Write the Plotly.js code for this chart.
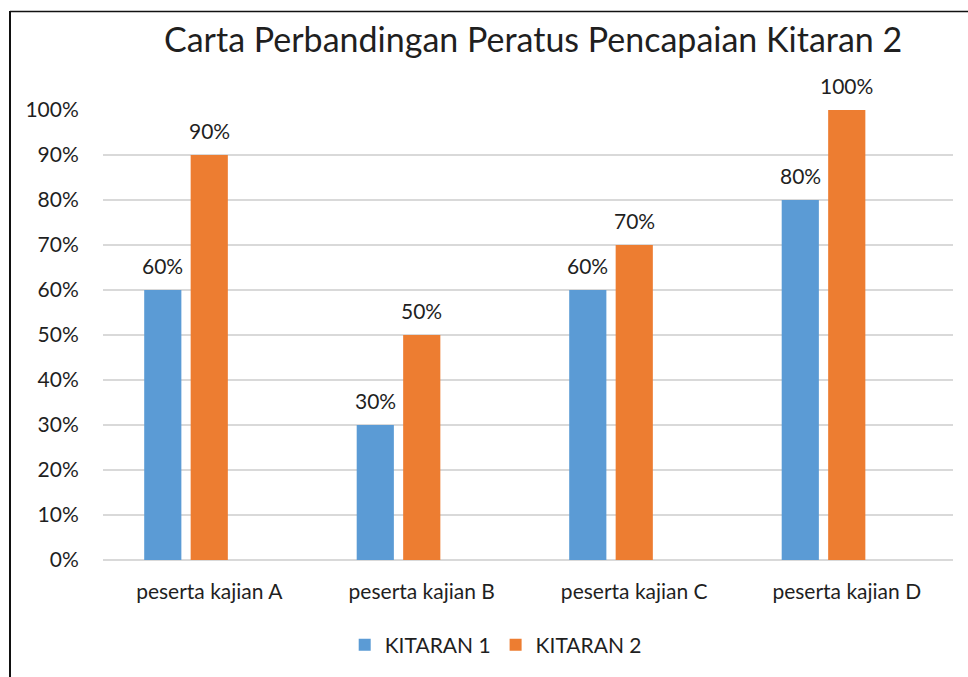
<!DOCTYPE html>
<html>
<head>
<meta charset="utf-8">
<script src="https://cdn.plot.ly/plotly-3.0.1.min.js"></script>
<style>
html,body{margin:0;padding:0;background:#fff;}
#chart{width:968px;height:677px;}
</style>
</head>
<body>
<div id="chart"></div>
<script>
const categories = ["peserta kajian A", "peserta kajian B", "peserta kajian C", "peserta kajian D"];
const kitaran1 = [0.60, 0.30, 0.60, 0.80];
const kitaran2 = [0.90, 0.50, 0.70, 1.00];
const seriesNames = ["KITARAN 1", "KITARAN 2"];
const chartTitle = "Carta Perbandingan Peratus Pencapaian Kitaran 2";

const FONT = "Lato, 'Open Sans', sans-serif";
const TXT = "#1f1f1f";
const FS = 21;

const traces = [
  {type: "bar", name: seriesNames[0], x: categories, y: kitaran1,
   marker: {color: "#5B9BD5"}, hoverinfo: "none"},
  {type: "bar", name: seriesNames[1], x: categories, y: kitaran2,
   marker: {color: "#ED7D31"}, hoverinfo: "none"},
  {type: "bar", name: "", x: categories, y: categories.map(() => null),
   showlegend: false, hoverinfo: "none"}
];

const annotations = [];
[kitaran1, kitaran2].forEach((vals, si) => {
  vals.forEach((v, i) => {
    annotations.push({
      x: categories[i], y: v, xref: "x", yref: "y",
      text: Math.round(v * 100) + "%", showarrow: false,
      xshift: (si - 1) * 46.5, yshift: 25,
      font: {family: FONT, size: FS, color: TXT}
    });
  });
});
annotations.push({
  text: chartTitle, xref: "paper", yref: "paper",
  x: 0.506, y: (560 - 39) / 450, xanchor: "center", yanchor: "middle",
  showarrow: false, font: {family: FONT, size: 34, color: TXT}
});

const layout = {
  width: 968, height: 677,
  margin: {l: 103, r: 15, t: 110, b: 117},
  paper_bgcolor: "#fff", plot_bgcolor: "#fff",
  barmode: "group", bargap: 0.344, bargroupgap: 0.2,
  font: {family: FONT, size: FS, color: TXT},
  xaxis: {
    type: "category", showgrid: false, zeroline: false,
    showline: false, ticks: "outside", ticklen: 13, tickcolor: "rgba(0,0,0,0)",
    tickfont: {family: FONT, size: FS, color: TXT}
  },
  yaxis: {
    range: [0, 1], dtick: 0.1, tickformat: ".0%",
    showgrid: true, gridcolor: "#D9D9D9", gridwidth: 1.5,
    zeroline: true, zerolinecolor: "#D9D9D9", zerolinewidth: 1.5,
    showline: false, ticks: "outside", ticklen: 19, tickcolor: "rgba(0,0,0,0)",
    tickfont: {family: FONT, size: FS, color: TXT}
  },
  showlegend: true,
  legend: {
    orientation: "h", x: 0.462, xanchor: "center",
    y: (560 - 645) / 450, yanchor: "middle",
    font: {family: FONT, size: FS, color: TXT},
    itemwidth: 30, traceorder: "normal"
  },
  annotations: annotations,
  shapes: [
    {type: "line", xref: "paper", yref: "paper",
     x0: (10 - 103) / 850, x1: (980 - 103) / 850,
     y0: (560 - 11.5) / 450, y1: (560 - 11.5) / 450,
     line: {color: "#111", width: 1.5}},
    {type: "line", xref: "paper", yref: "paper",
     x0: (10 - 103) / 850, x1: (10 - 103) / 850,
     y0: (560 - 11) / 450, y1: (560 - 690) / 450,
     line: {color: "#111", width: 2}}
  ]
};

Plotly.newPlot("chart", traces, layout, {displayModeBar: false, staticPlot: true});
</script>
</body>
</html>
